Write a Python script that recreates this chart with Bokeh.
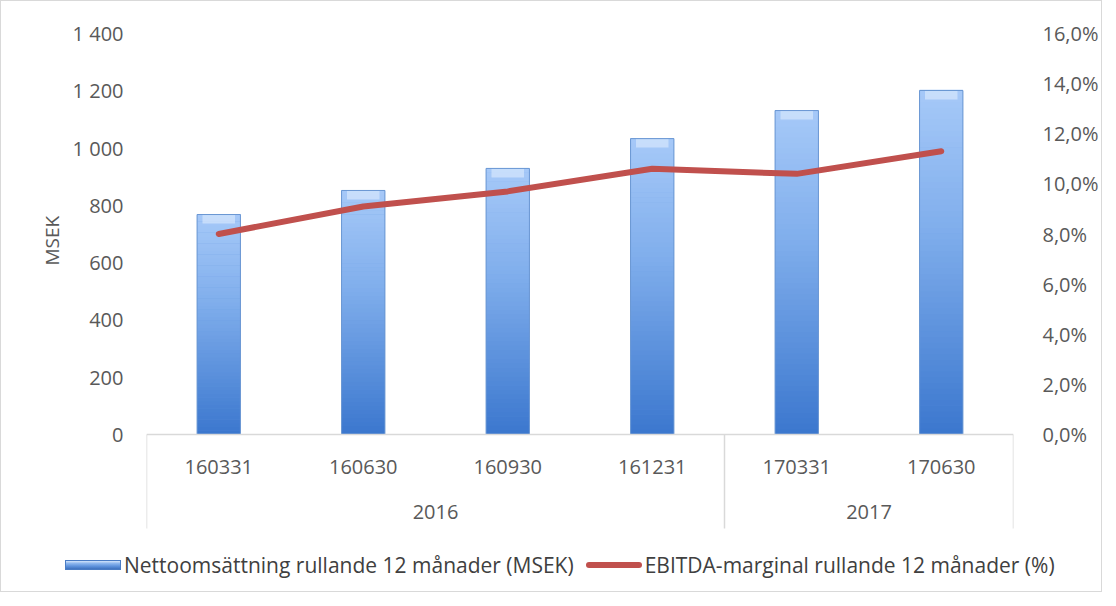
from bokeh.plotting import figure
from bokeh.layouts import column
from bokeh.models import Range1d, LinearAxis, FixedTicker, Title, Div
from bokeh.embed import file_html
from bokeh.resources import INLINE
from bokeh.core.properties import value

# ---- data ----
years = ["2016", "2016", "2016", "2016", "2017", "2017"]
periods = ["160331", "160630", "160930", "161231", "170331", "170630"]
sales = [768, 852, 929, 1033, 1131, 1201]
margin_pct = [8.0, 9.1, 9.7, 10.6, 10.4, 11.3]
left_ticks = [0, 200, 400, 600, 800, 1000, 1200, 1400]
right_ticks = [0, 2, 4, 6, 8, 10, 12, 14, 16]
sales_label = "Nettoomsättning rullande 12 månader (MSEK)"
margin_label = "EBITDA-marginal rullande 12 månader (%)"
y_title = "MSEK"

# ---- layout ----
W, H, HL = 1100, 545, 45
LB, RB, TB, BB = 145, 85, 32, 0
frame_h = H - TB - BB
zero_px = 401  # pixels from top of frame to zero line
ymax = left_ticks[-1]
px_per = zero_px / ymax
ymin = -(frame_h - zero_px) / px_per
pmax = right_ticks[-1]
pmin = ymin / ymax * pmax
box_bottom = -94 / px_per

FONT = "Open Sans"
TXT = "#595959"
GRID = "#D9D9D9"
FS = "20px"
BAR_C = "#5F93DD"
LINE_C = "#C0504D"

p = figure(width=W, height=H, output_backend="svg", toolbar_location=None,
           x_range=Range1d(0, len(periods)), y_range=Range1d(ymin, ymax),
           min_border_left=LB, min_border_right=RB, min_border_top=TB,
           min_border_bottom=BB)
p.extra_y_ranges = {"pct": Range1d(pmin, pmax)}
p.outline_line_color = None
p.xgrid.visible = False
p.ygrid.visible = False
p.xaxis.visible = False

# left axis
ya = p.yaxis[0]
ya.ticker = FixedTicker(ticks=left_ticks)
ya.major_label_overrides = {t: f"{t:,}".replace(",", " ") for t in left_ticks}
ya.axis_line_color = None
ya.major_tick_line_color = None
ya.minor_tick_line_color = None
ya.major_tick_out = 0
ya.major_label_standoff = 23
ya.major_label_text_font = FONT
ya.major_label_text_font_size = FS
ya.major_label_text_color = TXT

# y-axis title placed beside the value range
p.add_layout(Title(text=y_title, align="left", offset=281, text_font=FONT,
                   text_font_size="19px", text_font_style="normal",
                   text_color=TXT), "left")

# right axis
ra = LinearAxis(y_range_name="pct", ticker=FixedTicker(ticks=right_ticks))
ra.major_label_overrides = {t: f"{t:.1f}%".replace(".", ",") for t in right_ticks}
ra.axis_line_color = None
ra.major_tick_line_color = None
ra.minor_tick_line_color = None
ra.major_tick_out = 0
ra.major_label_standoff = 29
ra.major_label_text_font = FONT
ra.major_label_text_font_size = FS
ra.major_label_text_color = TXT
p.add_layout(ra, "right")

xs = [i + 0.5 for i in range(len(periods))]
BW = 0.3

# bars: base bar + vertical gradient slices + outline
p.vbar(x=xs, top=sales, width=BW, fill_color=BAR_C, line_color=None)

def lerp(c1, c2, t):
    a = [int(c1[i:i + 2], 16) for i in (1, 3, 5)]
    b = [int(c2[i:i + 2], 16) for i in (1, 3, 5)]
    return "#%02x%02x%02x" % tuple(int(round(a[k] + (b[k] - a[k]) * t)) for k in range(3))

N = 60
BOT, MID, TOP = "#3B77CE", "#80AEEC", "#A6C9F8"
gx, gb, gt, gc = [], [], [], []
for x, v in zip(xs, sales):
    for k in range(N):
        t = (k + 0.5) / N
        gx.append(x)
        gb.append(v * k / N)
        gt.append(v * (k + 1) / N + v * 0.002)
        gc.append(lerp(BOT, MID, t / 0.6) if t < 0.6 else lerp(MID, TOP, (t - 0.6) / 0.4))
p.vbar(x=gx, bottom=gb, top=gt, width=BW, fill_color=gc, line_color=None)
p.vbar(x=xs, bottom=[v - 9 / px_per for v in sales], top=sales, width=BW * 0.75,
       fill_color="#D6E7FC", fill_alpha=0.7, line_color=None)
p.vbar(x=xs, top=sales, width=BW, fill_alpha=0, line_color="#6A97D3", line_width=1)

# line
p.line(x=xs, y=margin_pct, y_range_name="pct", line_color=LINE_C,
       line_width=6, line_cap="round", line_join="round")

# category axis box
p.segment(x0=[0], y0=[0], x1=[len(periods)], y1=[0], line_color=GRID, line_width=1.5)
bounds = [0] + [i for i in range(1, len(years)) if years[i] != years[i - 1]] + [len(years)]
p.segment(x0=bounds, y0=[0] * len(bounds), x1=bounds, y1=[box_bottom] * len(bounds),
          line_color=GRID, line_width=1.5)

p.text(x=xs, y=[-32 / px_per] * len(xs), text=periods, text_align="center",
       text_baseline="middle", text_font=value(FONT), text_font_size=FS,
       text_color=TXT)
gyears, gx2 = [], []
for a, b in zip(bounds[:-1], bounds[1:]):
    gyears.append(years[a])
    gx2.append((a + b) / 2)
p.text(x=gx2, y=[-77 / px_per] * len(gx2), text=gyears, text_align="center",
       text_baseline="middle", text_font=value(FONT), text_font_size=FS,
       text_color=TXT)

# ---- legend strip (HTML, so it can span the full width) ----
swatch_bar = ("display:inline-block;width:56px;height:10px;margin-right:3px;"
              "background:linear-gradient(#D3E5FB 0%, #8DB6EE 30%, " + BAR_C + " 65%, #3F72BE 100%);"
              "border:1px solid #4A7CC4;box-sizing:border-box")
swatch_line = ("display:inline-block;width:56px;height:6px;margin:0 3px 0 12px;"
               "border-radius:3px;background:" + LINE_C)
legend_html = (
    f'<div style="display:flex;align-items:center;white-space:nowrap;'
    f'font-family:\'{FONT}\';font-size:21px;color:#404040;'
    f'padding-left:64px;height:{HL}px;box-sizing:border-box;padding-bottom:7px">'
    f'<span style="{swatch_bar}"></span><span>{sales_label}</span>'
    f'<span style="{swatch_line}"></span><span>{margin_label}</span></div>'
)
lp = Div(text=legend_html, width=W, height=HL, margin=0)

layout = column(p, lp, spacing=0, styles={"border": "1px solid #D9D9D9"})
open("out.html", "w").write(file_html(layout, INLINE))
